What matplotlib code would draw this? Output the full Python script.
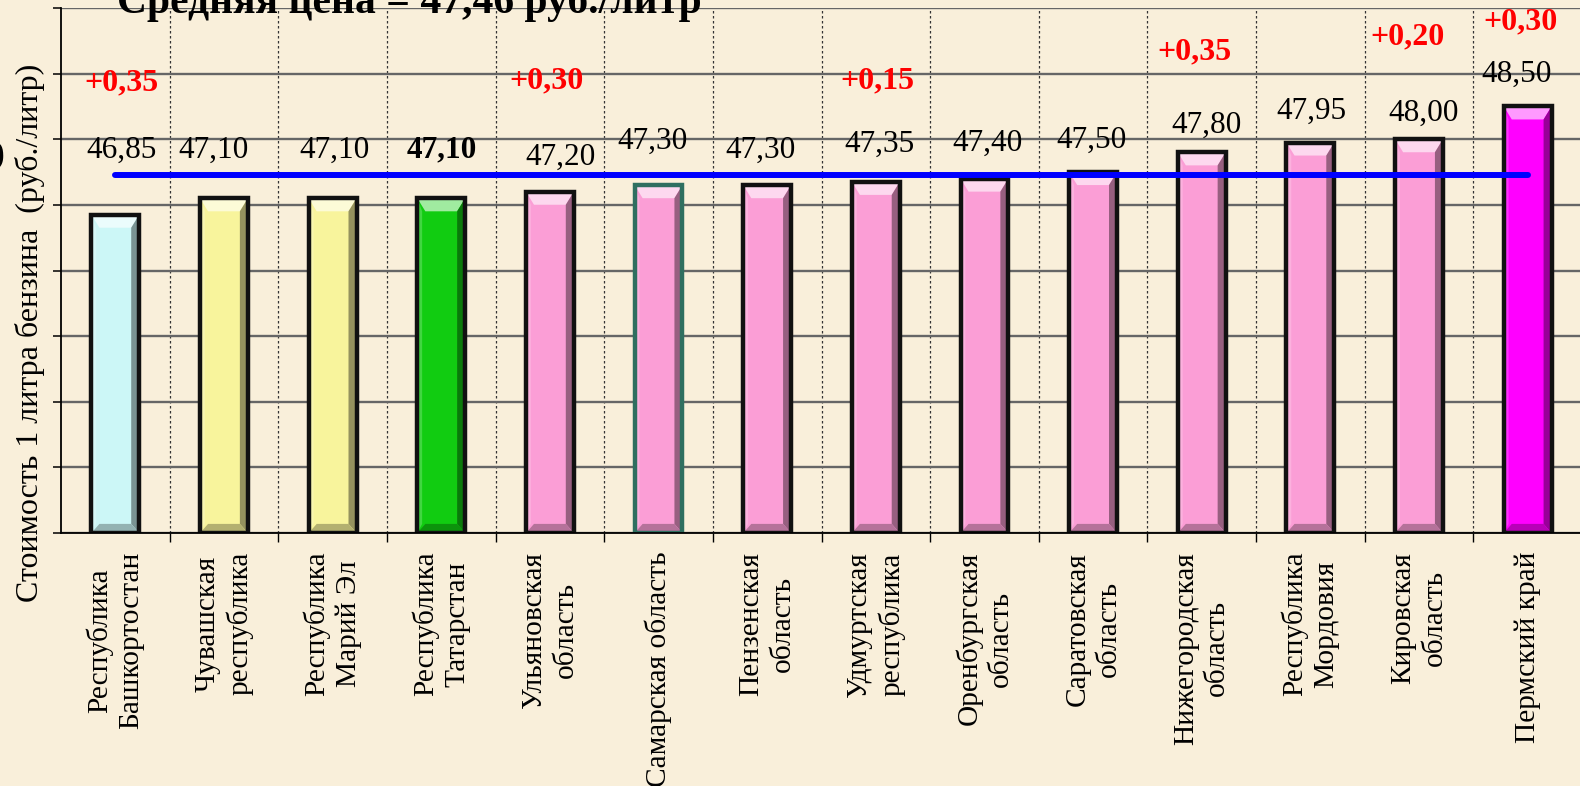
import matplotlib
matplotlib.use("Agg")
import matplotlib.pyplot as plt
import matplotlib.colors as mcolors
from matplotlib.patches import Polygon
import numpy as np

# ---- data ----
regions = [
    "Республика\nБашкортостан",
    "Чувашская\nреспублика",
    "Республика\nМарий Эл",
    "Республика\nТатарстан",
    "Ульяновская\nобласть",
    "Самарская область",
    "Пензенская\nобласть",
    "Удмуртская\nреспублика",
    "Оренбургская\nобласть",
    "Саратовская\nобласть",
    "Нижегородская\nобласть",
    "Республика\nМордовия",
    "Кировская\nобласть",
    "Пермский край",
]
prices = [46.85, 47.10, 47.10, 47.10, 47.20, 47.30, 47.30, 47.35, 47.40, 47.50,
          47.80, 47.95, 48.00, 48.50]
price_labels = ["46,85", "47,10", "47,10", "47,10", "47,20", "47,30", "47,30",
                "47,35", "47,40", "47,50", "47,80", "47,95", "48,00", "48,50"]
changes = ["+0,35", None, None, None, "+0,30", None, None, "+0,15", None, None,
           "+0,35", None, "+0,20", "+0,30"]
avg_price = 47.46
title_text = "Средняя цена = 47,46 руб./литр"
ylabel_text = "Стоимость 1 литра бензина  (руб./литр)"

# ---- style ----
bar_colors = ["#ccf7f7", "#f8f49c", "#f8f49c", "#11cc11", "#fb9ed6", "#fb9ed6",
              "#fb9ed6", "#fb9ed6", "#fb9ed6", "#fb9ed6", "#fb9ed6", "#fb9ed6",
              "#fb9ed6", "#ff00ff"]
edge_colors = ["#111111"] * 14
edge_colors[5] = "#2f6f60"
bold_label = [False, False, False, True] + [False] * 10
# label offsets (pixels) relative to bar top centre
lab_dx = [6, -10, 2, 1, 11, -6, -7, 4, 3, -2, 5, 1, 5, -11]
lab_dy = [64, 48, 48, 48, 34, 44, 35, 38, 35, 32, 27, 31, 26, 32]
chg_dx = [6, 0, 0, 0, -3, 0, 0, 2, 0, 0, -7, 0, -12, -7]
chg_dy = [132, 0, 0, 0, 111, 0, 0, 101, 0, 0, 100, 0, 102, 85]

BG = "#f9efda"
W, H = 1580, 786
fig = plt.figure(figsize=(W / 100, H / 100), dpi=100, facecolor=BG)
ax = fig.add_axes([61 / W, (H - 533) / H, 1521 / W, 525 / H])
ax.set_facecolor(BG)

serif = ["Liberation Serif", "DejaVu Serif"]
ymin, ymax = 42, 50
x = np.arange(len(prices))
bw = 0.44
vals = np.array(prices)

bars = ax.bar(x, vals - ymin, bottom=ymin, width=bw, color=bar_colors,
              edgecolor="none", zorder=3)

px_x = 108.6  # pixels per category
px_y = 65.6   # pixels per unit
bdx = 8 / px_x
bdy = 13 / px_y
for i, b in enumerate(bars):
    x0 = b.get_x(); x1 = x0 + b.get_width()
    y0 = ymin; y1 = prices[i]
    c = np.array(mcolors.to_rgb(bar_colors[i]))
    light = tuple(c + (1 - c) * 0.6)
    lightl = tuple(c + (1 - c) * 0.2)
    dark = tuple(c * 0.6)
    darkb = tuple(c * 0.72)
    polys = [
        ([(x0, y1), (x1, y1), (x1 - bdx, y1 - bdy), (x0 + bdx, y1 - bdy)], light),
        ([(x1, y1), (x1, y0), (x1 - bdx, y0 + bdy * 0.7), (x1 - bdx, y1 - bdy)], dark),
        ([(x0, y0), (x1, y0), (x1 - bdx, y0 + bdy * 0.7), (x0 + bdx, y0 + bdy * 0.7)], darkb),
        ([(x0, y0), (x0, y1), (x0 + bdx * 0.6, y1 - bdy), (x0 + bdx * 0.6, y0 + bdy * 0.7)], lightl),
    ]
    for pts, col in polys:
        ax.add_patch(Polygon(pts, closed=True, facecolor=col, edgecolor="none", zorder=3.1))
    ax.add_patch(plt.Rectangle((x0, y0), x1 - x0, y1 - y0, facecolor="none",
                               edgecolor=edge_colors[i], lw=3.2, zorder=3.2))

# average line
ax.plot([x[0], x[-1]], [avg_price, avg_price], color="#0000ff", lw=4.3,
        solid_capstyle="round", zorder=5)

# value labels
for i in range(len(prices)):
    ax.annotate(price_labels[i], (x[i], prices[i]),
                xytext=(lab_dx[i] * 0.72, lab_dy[i] * 0.72), textcoords="offset points",
                ha="center", va="center", fontsize=22.5, family=serif,
                fontweight="bold" if bold_label[i] else "normal", color="black", zorder=6)
    if changes[i]:
        ax.annotate(changes[i], (x[i], prices[i]),
                    xytext=(chg_dx[i] * 0.72, chg_dy[i] * 0.72), textcoords="offset points",
                    ha="center", va="center", fontsize=23, family=serif,
                    fontweight="bold", color="#ff0000", zorder=6)

ax.set_xlim(-0.5, len(prices) - 0.5)
ax.set_ylim(ymin, ymax)

ax.set_yticks(np.arange(ymin, ymax + 1))
ax.set_yticklabels([])
ax.tick_params(axis="y", direction="out", length=5.5, width=1.1, color="black")

ax.set_xticks(x)
ax.set_xticklabels(regions, rotation=90, ha="center", va="top", multialignment="center",
                   fontsize=21.2, family=serif, linespacing=1.25)
ax.set_xticks(np.arange(len(prices) - 1) + 0.5, minor=True)
ax.tick_params(axis="x", which="major", length=0, pad=13.5)
ax.tick_params(axis="x", which="minor", direction="out", length=6.5, width=1.0, color="black")

ax.grid(axis="y", which="major", color="#666666", lw=1.7, zorder=1)
ax.grid(axis="x", which="minor", color="#333333", lw=0.9, linestyle=(0, (2, 2)), zorder=1)
ax.set_axisbelow(True)

for s in ["top", "right"]:
    ax.spines[s].set_visible(False)
for s in ["left", "bottom"]:
    ax.spines[s].set_color("black")
    ax.spines[s].set_linewidth(1.3)
    ax.spines[s].set_zorder(4)

# title (cut off at the top)
fig.text(117 / W, 1 - 13 / H, title_text, ha="left", va="baseline",
         fontsize=30, fontweight="bold", family=serif, color="black")
# y label
fig.text(30 / W, 1 - 333 / H, ylabel_text, rotation=90, ha="center", va="center",
         fontsize=23, family=serif, color="black")
# partial glyph at the left edge
fig.text(-6 / W, 1 - 160 / H, "9", ha="center", va="center", fontsize=30,
         fontweight="bold", family=serif, color="black")

fig.savefig("out.png", dpi=100, facecolor=BG)
